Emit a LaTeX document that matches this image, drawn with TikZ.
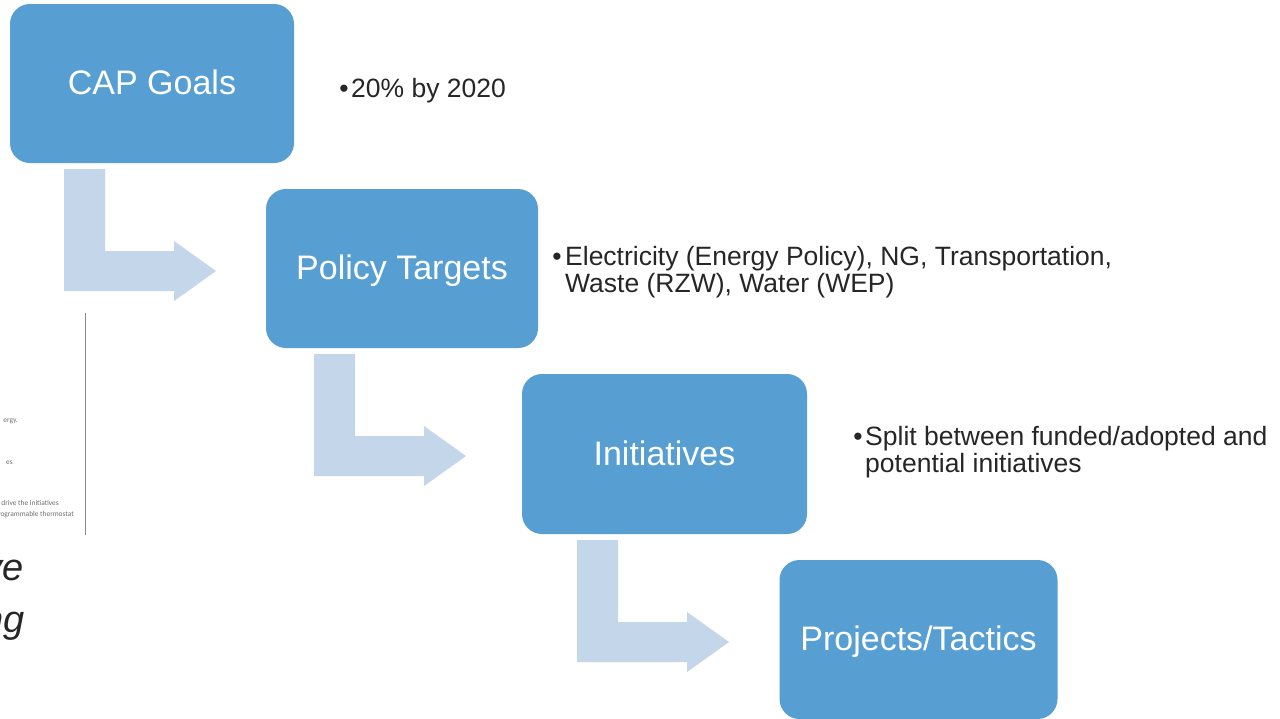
\documentclass[tikz,border=0pt]{standalone}
\usepackage{fontspec}
\setmainfont{Liberation Sans}
\newfontfamily\smallfont{Carlito}
\definecolor{boxblue}{RGB}{87,159,211}
\definecolor{arrowblue}{RGB}{196,214,234}
\definecolor{bodytext}{RGB}{38,38,38}
\definecolor{faintgray}{RGB}{110,110,110}
\tikzset{
  larrow/.pic={
    \fill[arrowblue] (0,0) -- (41,0) -- (41,82) -- (110,82) -- (110,72)
      -- (152,102) -- (110,132) -- (110,122) -- (0,122) -- cycle;
  },
  stepbox/.style={fill=boxblue, rounded corners=20pt, text=white,
    font=\fontsize{34}{40}\selectfont, inner sep=0pt,
    text height=25pt, text depth=3pt, minimum height=159pt},
  bullettext/.style={text=bodytext, font=\fontsize{26.5}{27}\selectfont,
    inner sep=0pt, anchor=base west},
  bulletdot/.style={text=bodytext, font=\fontsize{26.5}{27}\selectfont,
    inner sep=0pt, anchor=base},
  smalltxt/.style={text=faintgray, font=\smallfont\fontsize{7.4}{9}\selectfont,
    inner sep=0pt, anchor=base east},
  bigital/.style={text=bodytext, font=\fontsize{38}{44}\selectfont\itshape,
    inner sep=0pt, anchor=base east}
}
\begin{document}
\begin{tikzpicture}[x=1pt,y=-1pt]
\useasboundingbox (0,0) rectangle (1280,718);
\begin{scope}
\clip (0,0) rectangle (1280,718);
\fill[white] (0,0) rectangle (1280,718);

% cropped fragment on the left
\coordinate (vtop) at (85,313);
\coordinate (vbot) at (85,535);
\draw[faintgray!80, line width=1pt] (vtop) -- (vbot);
\node[smalltxt] (f1) at (18,422) {ergy.};
\node[smalltxt] (f2) at (13,464) {es};
\node[smalltxt] (f3) at (59,505) {drive the initiatives};
\node[smalltxt] (f4) at (74,516) {rogrammable thermostat};
\node[bigital] (f5) at (24,580) {ve};
\node[bigital] (f6) at (25,632) {ng};

% L-shaped arrows
\pic at (64,169) {larrow};
\pic at (314,354) {larrow};
\pic at (577,540) {larrow};

% boxes
\node[stepbox, minimum width=284pt] (cap) at (152,83.5) {CAP Goals};
\node[stepbox, minimum width=272pt] (policy) at (402,268.5) {Policy Targets};
\node[stepbox, minimum width=285pt, minimum height=160pt] (init) at (664.5,454) {Initiatives};
\node[stepbox, minimum width=278pt] (proj) at (918.5,639.5) {Projects/Tactics};

% bullet texts
\node[bulletdot] (b1) at (344,97) {•};
\node[bullettext] (t1) at (351,97) {20\% by 2020};
\node[bulletdot] (b2) at (557,265) {•};
\node[bullettext] (t2) at (565,265) {\begin{tabular}[t]{@{}l@{}}Electricity (Energy Policy), NG, Transportation,\\Waste (RZW), Water (WEP)\end{tabular}};
\node[bulletdot] (b3) at (858,445) {•};
\node[bullettext] (t3) at (865,445) {\begin{tabular}[t]{@{}l@{}}Split between funded/adopted and\\potential initiatives\end{tabular}};
\end{scope}
\end{tikzpicture}
\end{document}
